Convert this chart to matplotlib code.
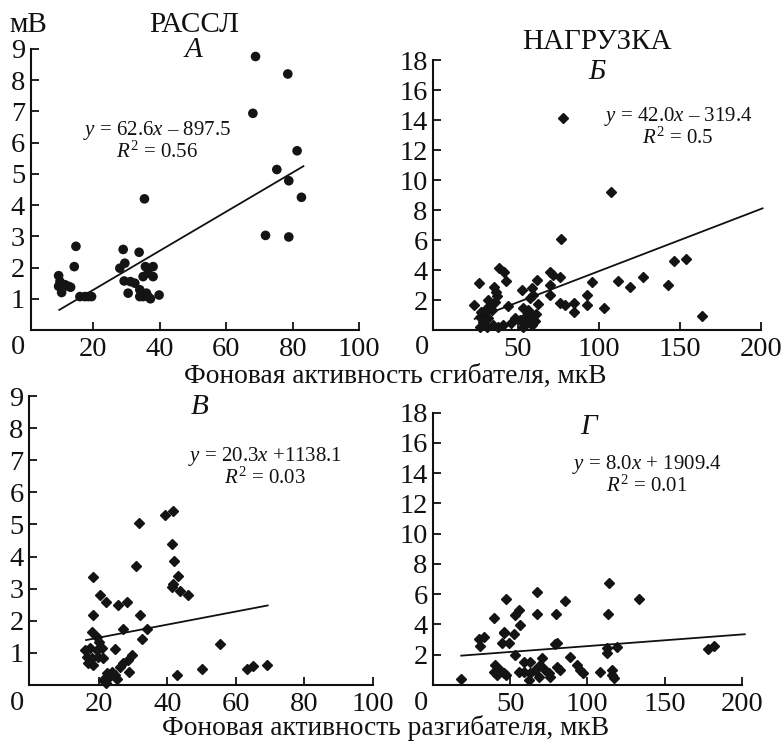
import matplotlib
matplotlib.use("Agg")
import matplotlib.pyplot as plt
import numpy as np

plt.rcParams['font.family'] = ['Liberation Serif', 'DejaVu Serif']
plt.rcParams['mathtext.fontset'] = 'custom'
plt.rcParams['mathtext.rm'] = 'Liberation Serif'
plt.rcParams['mathtext.it'] = 'Liberation Serif:italic'

# ---------------- data ----------------
# Panel A (РАССЛ, flexor) - circles
a_x = [68.8, 78.5, 68.0, 81.3, 75.2, 78.8, 82.6, 71.8, 78.8, 35.4, 14.8, 14.3, 9.6, 9.6,
       10.5, 11.5, 12.5, 13.2, 10.0, 16.0, 17.5, 18.5, 19.5, 29.0, 29.5, 28.0, 29.3, 30.5,
       31.2, 32.5, 33.8, 34.0, 34.0, 35.0, 35.7, 36.5, 37.2, 38.0, 38.0, 35.0, 39.8, 36.5, 36.0]
a_y = [8.76, 8.20, 6.94, 5.74, 5.14, 4.78, 4.25, 3.03, 2.98, 4.20, 2.68, 2.03, 1.74, 1.40,
       1.20, 1.45, 1.40, 1.37, 1.55, 1.07, 1.07, 1.07, 1.07, 2.58, 2.14, 1.98, 1.57, 1.18,
       1.55, 1.50, 2.49, 1.29, 1.07, 1.71, 2.03, 1.07, 1.00, 2.03, 1.71, 1.07, 1.12, 1.82, 1.18]

# Panel Б (НАГРУЗКА, flexor) - diamonds
b_x = [78.1, 107.3, 76.5, 146.3, 153.5, 163.4, 142.4, 127.4, 111.6, 119.2, 103.2, 95.6, 92.5,
       92.5, 84.9, 84.9, 79.1, 76.0, 76.0, 69.9, 72.0, 69.9, 69.9, 62.7, 61.7, 58.6, 59.6,
       57.5, 52.4, 53.4, 56.5, 58.6, 54.5, 51.4, 56.5, 48.3, 46.2, 53.4, 58.6, 60.6, 61.0,
       26.3, 38.6, 41.7, 42.7, 35.3, 36.6, 23.0, 31.8, 32.9, 29.8, 27.7, 33.9, 26.7, 31.8,
       28.7, 26.7, 30.8, 34.9, 38.0, 41.1, 44.2, 37.0, 36.0]
b_y = [14.16, 9.20, 6.04, 4.62, 4.71, 0.96, 3.00, 3.56, 3.27, 2.84, 1.44, 3.22, 2.33,
       1.67, 1.78, 1.22, 1.67, 1.78, 3.56, 3.89, 3.67, 3.00, 2.33, 1.71, 3.33, 2.78, 2.33,
       2.11, 2.67, 1.44, 1.33, 1.00, 0.89, 0.67, 0.56, 0.78, 0.44, 0.22, 0.33, 0.60, 1.10,
       3.11, 4.15, 3.89, 3.27, 2.84, 2.51, 1.67, 2.00, 1.67, 1.33, 1.22, 1.33, 0.89, 0.78,
       0.56, 0.22, 0.22, 0.33, 0.22, 0.33, 1.62, 2.27, 1.90]

# Panel В (РАССЛ, extensor) - diamonds
c_x = [18.1, 20.3, 22.0, 18.1, 17.8, 19.3, 20.0, 15.9, 17.4, 19.3, 20.8, 16.4, 17.8, 19.8,
       21.2, 16.9, 18.3, 24.7, 25.6, 28.1, 27.1, 29.5, 28.6, 27.1, 26.1, 28.8, 22.2, 23.7,
       24.7, 22.7, 25.2, 21.2, 22.0, 30.8, 31.8, 32.0, 32.5, 33.9, 39.3, 41.7, 41.2, 41.9,
       43.2, 41.2, 41.7, 43.7, 45.9, 42.9, 50.2, 55.4, 63.2, 64.9, 69.0]
c_y = [3.37, 2.80, 2.57, 2.18, 1.66, 1.50, 1.35, 1.09, 1.14, 1.09, 1.14, 0.88, 0.83, 0.88,
       0.83, 0.67, 0.62, 1.11, 2.49, 2.57, 1.73, 0.93, 0.78, 0.67, 0.57, 0.41, 0.36, 0.41,
       0.31, 0.21, 0.18, 0.16, 0.05, 3.70, 5.06, 2.18, 1.42, 1.73, 5.29, 5.43, 4.39, 3.85,
       3.41, 3.06, 3.16, 2.93, 2.79, 0.31, 0.49, 1.28, 0.49, 0.60, 0.62]

# Panel Г (НАГРУЗКА, extensor) - diamonds
d_x = [18.3, 29.6, 30.2, 32.8, 39.3, 45.8, 47.5, 44.7, 49.4, 52.2, 45.7, 52.9, 55.5, 56.5,
       53.3, 67.3, 67.3, 79.6, 85.3, 78.8, 80.3, 114.2, 113.7, 133.2, 112.7, 112.7, 119.2,
       177.9, 182.2, 40.3, 43.6, 39.3, 45.7, 41.5, 47.5, 58.7, 63.0, 70.6, 69.5, 58.7, 55.4,
       63.0, 66.3, 72.7, 74.9, 61.9, 68.5, 76.0, 80.3, 82.4, 88.5, 93.3, 95.4, 97.5, 107.9,
       115.9, 115.9, 117.0]
d_y = [0.40, 3.02, 2.58, 3.19, 4.41, 3.52, 5.70, 2.75, 2.75, 3.37, 3.42, 4.63, 4.96, 3.97,
       1.98, 6.17, 4.69, 4.69, 5.57, 2.69, 2.75, 6.76, 4.69, 5.68, 2.42, 2.09, 2.49,
       2.38, 2.58, 1.32, 0.99, 0.88, 0.77, 0.66, 0.66, 1.54, 1.54, 1.76, 1.32, 0.88, 0.88,
       0.77, 0.99, 0.99, 0.77, 0.33, 0.50, 0.51, 1.21, 0.99, 1.83, 1.32, 0.99, 0.77, 0.88,
       0.99, 0.66, 0.44]

# regression lines: slope, intercept, x start, x end (as drawn)
fit_a = (0.0627, 0.03, 9.8, 83.2)
fit_b = (0.0415, -0.23, 23.5, 201.0)
fit_c = (0.0203, 1.07, 16.2, 69.3)
fit_d = (0.0077, 1.80, 18.3, 202.0)

eq_a = ("$y$ = 62.6$x$ – 897.5", "$R^{2}$ = 0.56")
eq_b = ("$y$ = 42.0$x$ – 319.4", "$R^{2}$ = 0.5")
eq_c = ("$y$ = 20.3$x$ +1138.1", "$R^{2}$ = 0.03")
eq_d = ("$y$ = 8.0$x$ + 1909.4", "$R^{2}$ = 0.01")

xticks_small = [20, 40, 60, 80, 100]
xticks_big = [50, 100, 150, 200]
yticks_small = [1, 2, 3, 4, 5, 6, 7, 8, 9]
yticks_big = [2, 4, 6, 8, 10, 12, 14, 16, 18]

# ---------------- figure ----------------
W, H = 783, 742
fig = plt.figure(figsize=(W / 100, H / 100), dpi=100)
fig.patch.set_facecolor('white')

def px(x, y):
    return x / W, 1 - y / H

def make_ax(left, right, top, bottom):
    return fig.add_axes([left / W, 1 - bottom / H, (right - left) / W, (bottom - top) / H])

TICK_FS = 20.5
LABEL_FS = 19.8
INK = '#111111'
MARK_C = '#141414'

def style(ax, xlim, ylim, xt, yt):
    ax.set_xlim(*xlim)
    ax.set_ylim(*ylim)
    ax.set_xticks(xt)
    ax.set_yticks(yt)
    for s in ['top', 'right']:
        ax.spines[s].set_visible(False)
    for s in ['left', 'bottom']:
        ax.spines[s].set_linewidth(1.5)
        ax.spines[s].set_color(INK)
    ax.tick_params(direction='in', length=6, width=1.3, labelsize=TICK_FS, pad=4,
                   colors=INK)
    ax.tick_params(axis='x', pad=5)

axA = make_ax(30.7, 359.3, 49, 330)
axB = make_ax(433.3, 761.0, 60, 330)
axC = make_ax(29.3, 372.7, 396, 685)
axD = make_ax(433.3, 741.7, 412.7, 685)

style(axA, (1.2, 100), (0, 9), xticks_small, yticks_small)
style(axB, (-2, 200), (0, 18), xticks_big, yticks_big)
style(axC, (-0.4, 100), (0, 9), xticks_small, yticks_small)
style(axD, (0.2, 200), (0, 18), xticks_big, yticks_big)

axA.scatter(a_x, a_y, s=48, marker='o', color=MARK_C, edgecolors='none', zorder=3, clip_on=False)
axB.plot(b_x, b_y, linestyle='none', marker='D', ms=5.6, color=MARK_C, mec=MARK_C, zorder=3, clip_on=False)
axC.plot(c_x, c_y, linestyle='none', marker='D', ms=5.6, color=MARK_C, mec=MARK_C, zorder=3, clip_on=False)
axD.plot(d_x, d_y, linestyle='none', marker='D', ms=5.6, color=MARK_C, mec=MARK_C, zorder=3, clip_on=False)

for ax, (k, b0, x0, x1) in [(axA, fit_a), (axB, fit_b), (axC, fit_c), (axD, fit_d)]:
    xs = np.array([x0, x1])
    ax.plot(xs, k * xs + b0, color=INK, lw=1.3, zorder=4, clip_on=False)

# equations: two-line block, centred at given pixel position
EQ_FS = 15
for (eq, r2), (cx, cy) in [(eq_a, (157, 141)), (eq_b, (678, 127)),
                           (eq_c, (265, 467)), (eq_d, (647, 475))]:
    fig.text(*px(cx, cy), eq + "\n" + r2, ha='center', va='center', multialignment='center',
             linespacing=0.95, fontsize=EQ_FS, color=INK)

# titles & panel letters
TITLE_FS = 21
fig.text(*px(194, 25), 'РАССЛ', ha='center', va='center', fontsize=TITLE_FS, color=INK)
fig.text(*px(597, 42), 'НАГРУЗКА', ha='center', va='center', fontsize=TITLE_FS, color=INK)
fig.text(*px(28, 25), 'мВ', ha='center', va='center', fontsize=TITLE_FS, color=INK)
for letter, (lx, ly) in [('А', (193, 50)), ('Б', (597, 72)), ('В', (200, 407)), ('Г', (589, 427))]:
    fig.text(*px(lx, ly), letter, ha='center', va='center', fontsize=TITLE_FS,
             fontstyle='italic', color=INK)

# origin zeros
for zx, zy in [(18, 347), (422, 347), (17, 703), (421, 703)]:
    fig.text(*px(zx, zy), '0', ha='center', va='center', fontsize=TICK_FS, color=INK)

# axis labels
fig.text(*px(395, 383), 'Фоновая активность сгибателя, мкВ', ha='center', va='baseline',
         fontsize=LABEL_FS, color=INK)
fig.text(*px(386, 735), 'Фоновая активность разгибателя, мкВ', ha='center', va='baseline',
         fontsize=LABEL_FS, color=INK)

fig.savefig('out.png', dpi=100, facecolor='white')
